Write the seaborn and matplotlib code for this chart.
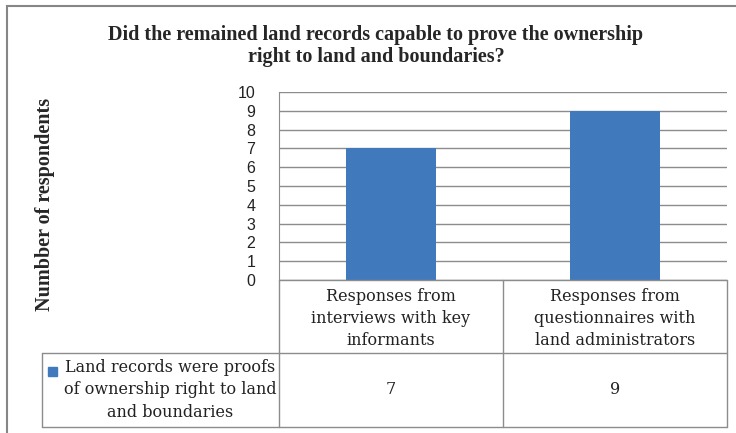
import pandas as pd
import matplotlib
matplotlib.use("Agg")
import matplotlib.pyplot as plt
import seaborn as sns
from matplotlib.lines import Line2D
from matplotlib.patches import Rectangle

# Chart data
title = "Did the remained land records capable to prove the ownership\nright to land and boundaries?"
y_label = "Numbber of respondents"
categories = ["Responses from\ninterviews with key\ninformants",
              "Responses from\nquestionnaires with\nland administrators"]
series_name = "Land records were proofs\nof ownership right to land\nand boundaries"
values = [7, 9]
y_ticks = list(range(0, 11))

W, H = 736, 433
bar_color = "#4079bc"
line_gray = "#8c8c8c"

df = pd.DataFrame({"category": categories, "count": values})

sns.set_style("white")
fig = plt.figure(figsize=(W / 100, H / 100), dpi=100)
fig.patch.set_facecolor("white")


def fx(x):
    return x / W


def fy(y):
    return 1 - y / H


# plot area in pixels
left, right, top, bottom = 279, 727, 92, 280
ax = fig.add_axes([fx(left), fy(bottom), fx(right - left), (bottom - top) / H])

sns.barplot(data=df, x="category", y="count", color=bar_color, width=0.4,
            saturation=1, linewidth=0, ax=ax)
ax.set_ylim(0, 10)
ax.set_xlim(-0.5, len(categories) - 0.5)
ax.set_yticks(y_ticks)
ax.set_yticklabels([str(t) for t in y_ticks], fontsize=11.5,
                   family="Liberation Sans", color="#222222")
ax.set_xticks([])
ax.set_xlabel("")
ax.set_ylabel("")
ax.tick_params(axis="y", length=0, pad=17)
ax.yaxis.grid(True, color=line_gray, linewidth=1)
ax.set_axisbelow(True)
for side in ["top", "right", "bottom"]:
    ax.spines[side].set_visible(False)
ax.spines["left"].set_color(line_gray)


def hline(x0, x1, y):
    fig.add_artist(Line2D([fx(x0), fx(x1)], [fy(y), fy(y)], color=line_gray, lw=1))


def vline(x, y0, y1):
    fig.add_artist(Line2D([fx(x), fx(x)], [fy(y0), fy(y1)], color=line_gray, lw=1))


# data table under the axis
row_top, row_mid, row_bot, table_left = 280, 353, 427, 42
hline(left, right, row_top)
hline(table_left, right, row_mid)
hline(table_left, right, row_bot)
vline(table_left, row_mid, row_bot)
n = len(categories)
col_w = (right - left) / n
for i in range(n + 1):
    vline(left + i * col_w, row_top, row_bot)

table_font = dict(family="DejaVu Serif", fontsize=11.5, color="#222222",
                  linespacing=1.4, ha="center", va="center")
for i, (cat, val) in enumerate(zip(categories, values)):
    cx = left + (i + 0.5) * col_w
    fig.text(fx(cx), fy((row_top + row_mid) / 2 + 2), cat, **table_font)
    fig.text(fx(cx), fy((row_mid + row_bot) / 2), str(val), **table_font)

fig.text(fx(170), fy((row_mid + row_bot) / 2), series_name, **table_font)
fig.add_artist(Rectangle((fx(48), fy(376)), fx(9), 9 / H, color=bar_color,
                         transform=fig.transFigure))

# title and axis label
fig.text(fx(376), fy(46), title, ha="center", va="center", fontsize=14.5,
         fontweight="bold", family="Liberation Serif", linespacing=1.1)
fig.text(fx(45), fy(204), y_label, ha="center", va="center", rotation=90,
         fontsize=14.5, fontweight="bold", family="Liberation Serif")

# chart border
fig.add_artist(Rectangle((fx(7), fy(445)), fx(740), 439 / H, fill=False,
                         edgecolor="#868686", lw=1.5, transform=fig.transFigure))

fig.savefig("out.png", dpi=100)
